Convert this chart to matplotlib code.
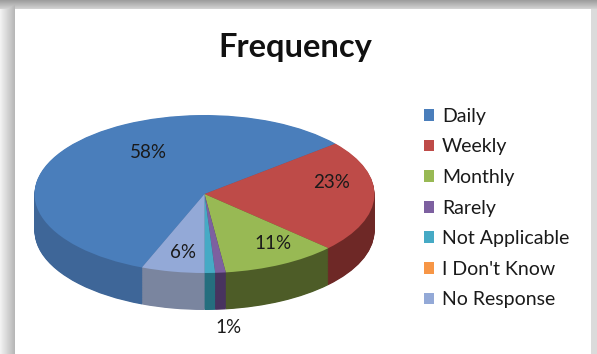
import numpy as np
import matplotlib
matplotlib.use("Agg")
import matplotlib.pyplot as plt
from matplotlib.patches import Patch

# ---- data ----
categories = ["Daily", "Weekly", "Monthly", "Rarely", "Not Applicable", "I Don't Know", "No Response"]
values = [58, 23, 11, 1, 1, 0, 6]
pct_labels = ["58%", "23%", "11%", "1%", "", "", "6%"]
title = "Frequency"

# ---- style ----
top_colors = ["#4A7EBB", "#BE4B48", "#98B954", "#7D60A0", "#46AAC5", "#F79646", "#93A9D7"]
side_colors = ["#3E6698", "#6E2826", "#4D5C27", "#48335F", "#256E7E", "#A0602A", "#7A859F"]
# label placement (angle shift in deg, radius factor) - layout only
label_dtheta = [-22, 13, 6, -0.7, 0, 0, 1]
label_rfac = [0.62, 0.76, 0.74, 1.69, 0, 0, 0.75]

W, H = 597, 354
fig = plt.figure(figsize=(W / 100, H / 100), dpi=100)

# background with shadow frame
bg = np.ones((H, W, 3))
for x in range(0, 15):
    v = 0.95 - 0.23 * (x / 14.0)
    bg[:, x, :] = v
for y in range(0, 9):
    v = 0.62 + 0.2 * (y / 8.0)
    bg[y, :, :] = np.minimum(bg[y, :, :], v)
for x in range(591, W):
    bg[:, x, :] = np.minimum(bg[:, x, :], 0.86)
ax_bg = fig.add_axes([0, 0, 1, 1])
ax_bg.imshow(bg, aspect="auto", extent=(0, W, H, 0), interpolation="bilinear")
ax_bg.axis("off")

ax = fig.add_axes([0, 0, 1, 1])
ax.patch.set_alpha(0)

R = 170.0
b_px = 79.0
k = R / b_px
cx = 204.5
cy = (H - 194) * k
depth = 37 * k
start = 248.4

for off in np.linspace(depth, 0, 60)[:-1]:
    ax.pie(values, colors=side_colors, startangle=start, counterclock=False,
           radius=R, center=(cx, cy - off), wedgeprops=dict(linewidth=0, edgecolor="none"))

wedges, _ = ax.pie(values, colors=top_colors, startangle=start, counterclock=False,
                   radius=R, center=(cx, cy), wedgeprops=dict(linewidth=0, edgecolor="none"))

for w, lab, dt, rf in zip(wedges, pct_labels, label_dtheta, label_rfac):
    if not lab:
        continue
    th = np.deg2rad((w.theta1 + w.theta2) / 2 + dt)
    ax.text(cx + rf * R * np.cos(th), cy + rf * R * np.sin(th), lab,
            ha="center", va="center", fontsize=13.5, family="Lato", color="#1a1a1a")

ax.set_aspect("auto")
ax.set_xlim(0, W)
ax.set_ylim(0, H * k)
ax.axis("off")

fig.text(0.495, 1 - 48 / H, title, ha="center", va="center", fontsize=23.5,
         fontweight="bold", family="Lato", color="#111111")

handles = [Patch(facecolor=c, edgecolor="none") for c in top_colors]
leg = fig.legend(handles, categories, loc="upper left", bbox_to_anchor=(414 / W, 1 - 98 / H),
                 frameon=False, handlelength=0.55, handleheight=0.55, handletextpad=0.4,
                 labelspacing=0.7, prop=dict(family="Lato", size=14), borderpad=0)
for t in leg.get_texts():
    t.set_color("#1a1a1a")

fig.savefig("out.png", dpi=100)
